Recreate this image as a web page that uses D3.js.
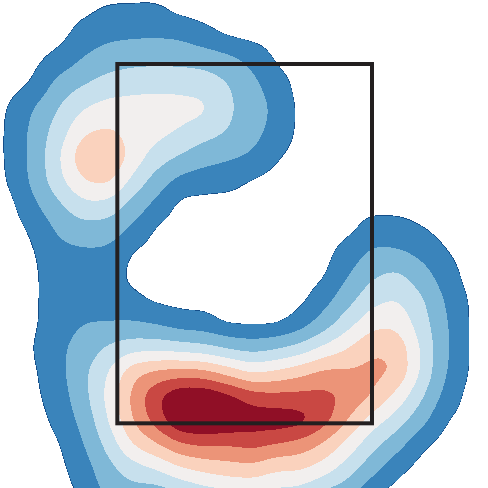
<!DOCTYPE html>
<html>
<head>
<meta charset="utf-8">
<script src="https://cdn.jsdelivr.net/npm/d3@7"></script>
<style>
html,body{margin:0;padding:0;background:#fff;}
svg{display:block;}
</style>
</head>
<body>
<svg id="chart" width="488" height="488"></svg>
<script>
const gridX = [3,9,15,21,27,33,39,45,51,57,63,69,75,81,87,93,99,105,111,117];
const gridY = [3,9,15,21,27,33,39,45,51,57,63,69,75,81,87,93,99,105,111,117,123,129];
const counts = [
  [0,0,0,1,3.5,3.8,4,0.5,0,0,0,0,0,0,0,0,0,0,0,0],
  [0,0,0,6,9.6,10.5,11,10.3,4.9,1,0,0,0,0,0,0,0,0,0,0],
  [0,1,5,13,18.8,21,21.3,20.9,19.8,15.4,9.2,1,0,0,0,0,0,0,0,0],
  [0,3,17,23.5,29,30.8,32.3,32,30.6,25,15,6,0,0,0,0,0,0,0,0],
  [3,13,25,36,41,42,42,41,39,26,19,9,0.5,0,0,0,0,0,0,0],
  [3.5,17,31,47,50,44,40,35,28.8,24,16,8,0.5,0,0,0,0,0,0,0],
  [3.5,17.5,36,58,62,44,31,23.4,17,13.7,11,3,0,0,0,0,0,0,0,0],
  [3,16.5,34,49,52,34,18.8,8.3,6,5,1.5,0,0,0,0,0,0,0,0,0],
  [0.5,11,23,34,33,20,9,0,0,0,0,0,0,0,0,0,0,0,0,0],
  [0,4,15,20,18.7,10.4,1,0,0,0,0,0,0,0,0,5.3,5,2.5,0,0],
  [0,2,9,10,10,1.5,0,0,0,0,0,0,0,0,5.5,13.8,13.4,9.2,2.7,0],
  [0,1.5,7,8,6,0.5,0,0,0,0,0,0,0,1,11.5,22.5,27.5,18,7,0],
  [0,1.5,7,8,6,4.3,0.5,0,0,0,0,0,0,7.3,19.8,32.6,36.8,27,11.5,1.5],
  [0,1.5,8,12,12.5,13,10.9,6.3,5.4,0.5,0.3,0.3,6,17.7,32,44.7,45.8,31,14,1.5],
  [0,2.5,10,17,26,31.6,32,30,27.3,22,18.5,22,28,38.7,48,58.8,58,36,15,1.5],
  [0,1.5,9,21.7,36,56,63,65,64,55,46,50,56,63.4,62,63,60,36,13,1.5],
  [0,1,7,20.4,39.5,63,82,95,95,88,78,76,76,76,70,60.5,45,27,9,0],
  [0,0,4.6,16,36,60,78,97,100,96,92,92,90,78,60,42.3,31,16.8,2.5,0],
  [0,0,1.5,11.5,28,48.5,59,71,74,73,76,72,68,58.5,44,28,17,3.6,0,0],
  [0,0,0.5,7,20,30.6,37,47,52,55,57,50,50,43,29.8,16.8,4.3,0,0,0],
  [0,0,0,3.5,15.6,19.4,17.6,24,31,35,36,34,32,22,17,2.5,0,0,0,0],
  [0,0,0,1.5,10,12,8,14,18,20,22,20,18,12,3,0,0,0,0,0]
];
// contour levels (in weight per bin)
const levels = [2.35, 2.5, 12, 24, 36, 48, 60, 72, 84];
// frame rectangle (data units)
const frameX = [29.33, 93];
const frameY = [16, 105.83];

const W = 488, H = 488;
const x = d3.scaleLinear().domain([0, 122]).range([0, W]);
const y = d3.scaleLinear().domain([0, 122]).range([0, H]);

const points = [];
counts.forEach((row, j) => row.forEach((w, i) => {
  if (w > 0) points.push({x: gridX[i], y: gridY[j], w: w});
}));

const binArea = (x(gridX[1]) - x(gridX[0])) * (y(gridY[1]) - y(gridY[0]));

const density = d3.contourDensity()
  .x(d => x(d.x))
  .y(d => y(d.y))
  .weight(d => d.w)
  .size([W, H])
  .cellSize(4)
  .bandwidth(10)
  .thresholds(levels.map(u => u / binArea));

const contours = density(points);
const n = levels.length;
const color = i => d3.interpolateRdBu(1 - (i + 0.5) / n);

const svg = d3.select("#chart");
svg.append("g")
  .selectAll("path")
  .data(contours)
  .join("path")
  .attr("d", d3.geoPath())
  .attr("fill", (d, i) => color(i))
  .attr("shape-rendering", "crispEdges");

svg.append("rect")
  .attr("x", x(frameX[0]))
  .attr("y", y(frameY[0]))
  .attr("width", x(frameX[1]) - x(frameX[0]))
  .attr("height", y(frameY[1]) - y(frameY[0]))
  .attr("fill", "none")
  .attr("stroke", "#231f20")
  .attr("stroke-width", 4);
</script>
</body>
</html>
